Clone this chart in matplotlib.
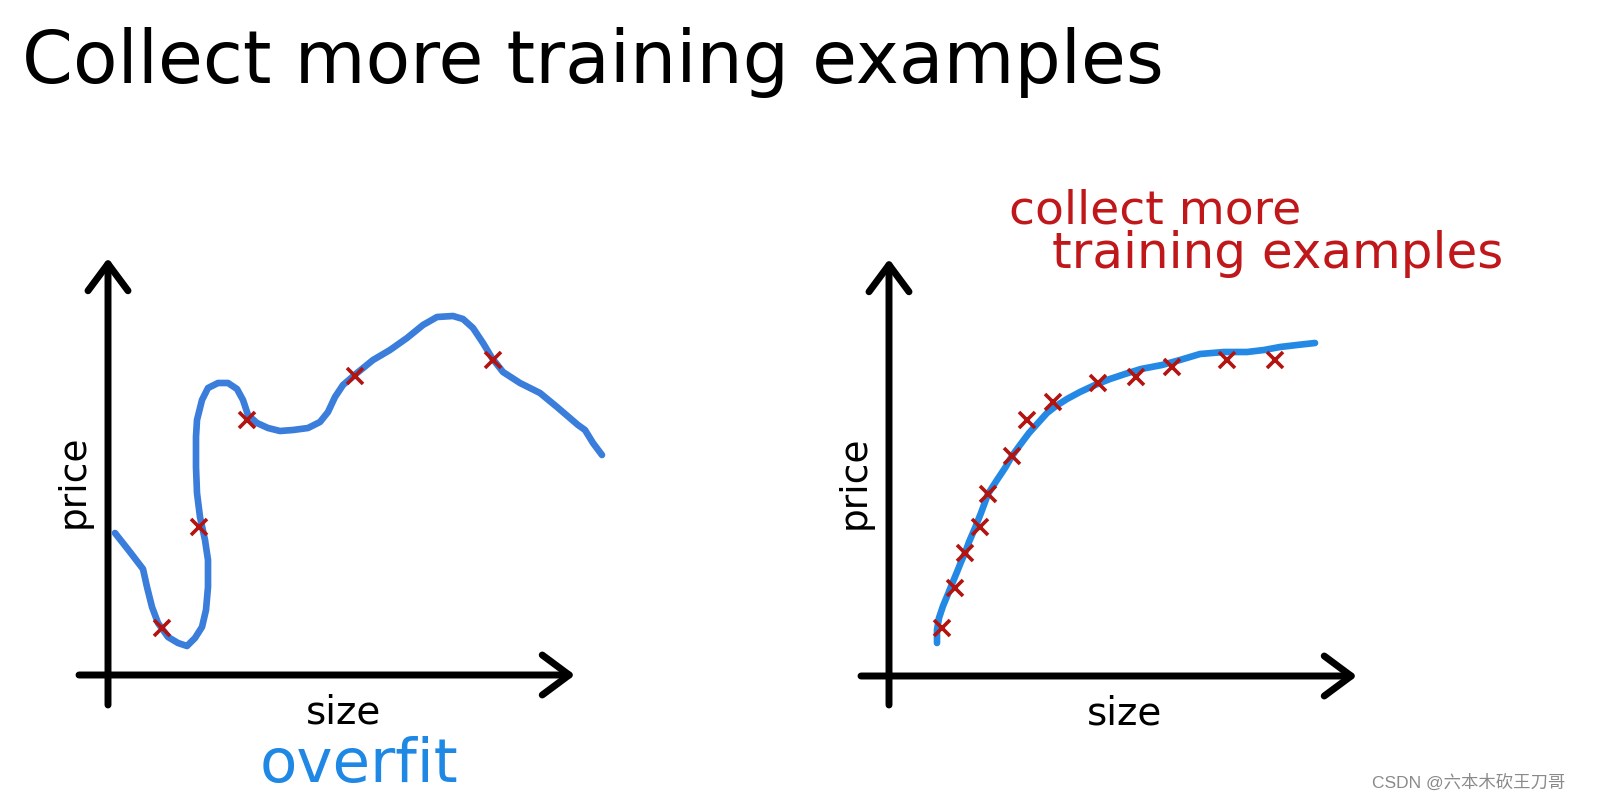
import matplotlib
matplotlib.use('Agg')
import matplotlib.pyplot as plt

W, H, DPI = 1598, 798, 100

title = "Collect more training examples"
x_label = "size"
y_label = "price"
note_right = ["collect more", "training examples"]
note_left = "overfit"
watermark = "CSDN @六本木砍王刀哥"

# Left panel (overfit): hand-drawn wiggly curve and 5 training examples
left_curve_size = [7, 22, 35, 39, 44, 50, 60, 70, 79, 87, 94, 98, 100, 100, 97, 92, 89, 88, 88,
                   89, 94, 100, 110, 120, 129, 135, 140, 149, 160, 172, 185, 200, 212, 220, 227,
                   235, 249, 265, 282, 299, 315, 329, 345, 355, 365, 375, 384, 395, 412, 432,
                   449, 470, 477, 485, 494]
left_curve_price = [142, 123, 106, 88, 68, 52, 38, 32, 29, 37, 48, 65, 88, 115, 135, 158, 182,
                    208, 238, 255, 275, 287, 292, 292, 286, 275, 260, 252, 247, 244, 245, 247,
                    253, 263, 278, 290, 302, 315, 325, 337, 350, 358, 359, 356, 347, 332, 317,
                    303, 292, 282, 268, 250, 245, 232, 220]
left_points_size = [54, 91, 139, 247, 385]
left_points_price = [47, 148, 255, 299, 315]

# Right panel (more data): smooth curve and many training examples
right_curve_size = [48, 48, 50, 54, 59, 63, 68, 72, 76, 80, 86, 92, 99, 108, 116, 123, 131, 140,
                    149, 158, 167, 178, 191, 206, 221, 236, 252, 273, 291, 311, 335, 358, 375,
                    391, 408, 426]
right_curve_price = [33, 46, 58, 70, 82, 92, 104, 114, 123, 134, 148, 163, 182, 196, 208, 220,
                     231, 243, 253, 263, 270, 277, 284, 291, 297, 302, 307, 311, 316, 322, 324,
                     324, 326, 329, 331, 333]
right_points_size = [53, 66, 76, 91, 99, 123, 138, 164, 209, 247, 283, 338, 386]
right_points_price = [48, 88, 123, 149, 182, 220, 256, 274, 293, 299, 309, 316, 316]

fig = plt.figure(figsize=(W / DPI, H / DPI), dpi=DPI)
fig.patch.set_facecolor('white')


def fx(px):
    return px / W


def fy(py):
    return 1 - py / H


def panel(rect_px, origin_px, curve_s, curve_p, pts_s, pts_p, curve_color, x_ext, y_ext):
    left, top, right, bottom = rect_px
    ox, oy = origin_px
    ax = fig.add_axes([fx(left), fy(bottom), (right - left) / W, (bottom - top) / H])
    ax.set_xlim(left - ox, right - ox)
    ax.set_ylim(oy - bottom, oy - top)
    ax.axis('off')
    arrow = dict(arrowstyle='->,head_length=1.94,head_width=1.44', lw=5, color='black',
                 shrinkA=0, shrinkB=0, mutation_scale=10)
    ax.annotate('', xy=(x_ext[1], 0), xytext=(x_ext[0], 0), arrowprops=arrow, annotation_clip=False)
    ax.annotate('', xy=(0, y_ext[1]), xytext=(0, y_ext[0]), arrowprops=arrow, annotation_clip=False)
    ax.plot(curve_s, curve_p, color=curve_color, lw=4.8, solid_capstyle='round',
            solid_joinstyle='round', zorder=3, clip_on=False)
    ax.plot(pts_s, pts_p, linestyle='none', marker='x', ms=11.5, mew=2.6, color='#b3140f',
            zorder=4, clip_on=False)
    ax.text(236, -48.5, x_label, ha='center', va='baseline', fontsize=28, color='black')
    ax.text(-24, 194, y_label, rotation=90, rotation_mode='anchor', ha='center', va='baseline',
            fontsize=27, color='black')
    return ax


panel((60, 240, 620, 720), (108, 675), left_curve_size, left_curve_price,
      left_points_size, left_points_price, '#3a7ddb', (-29, 467), (-30, 417))
panel((840, 240, 1400, 720), (889, 676), right_curve_size, right_curve_price,
      right_points_size, right_points_price, '#2489e4', (-28, 468), (-29, 417))

fig.text(fx(22), fy(83.5), title, fontsize=52.5, va='baseline', ha='left', color='black')
fig.text(fx(1009), fy(223), note_right[0], fontsize=34, color='#c0171b', va='baseline', ha='left')
fig.text(fx(1052), fy(268), note_right[1], fontsize=36, color='#c0171b', va='baseline', ha='left')
fig.text(fx(260), fy(782), note_left, fontsize=44, color='#1f88e5', va='baseline', ha='left')
fig.text(fx(1372), fy(788), watermark, fontsize=12.5, color='#8a8a8a', va='baseline', ha='left',
         family=['Liberation Sans', 'Noto Sans CJK SC'])

fig.savefig('out.png', dpi=DPI, facecolor='white')
